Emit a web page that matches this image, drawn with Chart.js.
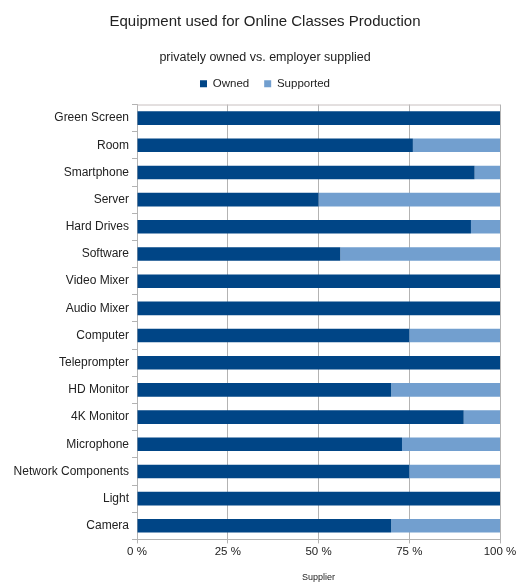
<!DOCTYPE html>
<html>
<head>
<meta charset="utf-8">
<script src="https://cdn.jsdelivr.net/npm/chart.js@4.4.0/dist/chart.umd.min.js"></script>
<style>
  html, body { margin: 0; padding: 0; background: #fff; }
  #wrap { width: 530px; height: 585px; }
</style>
</head>
<body>
<div id="wrap"><canvas id="chart"></canvas></div>
<script>
const categories = ['Green Screen', 'Room', 'Smartphone', 'Server', 'Hard Drives', 'Software',
  'Video Mixer', 'Audio Mixer', 'Computer', 'Teleprompter', 'HD Monitor', '4K Monitor',
  'Microphone', 'Network Components', 'Light', 'Camera'];
const owned     = [100, 76, 93, 50, 92, 56, 100, 100, 75, 100, 70, 90, 73, 75, 100, 70];
const supported = [0, 24, 7, 50, 8, 44, 0, 0, 25, 0, 30, 10, 27, 25, 0, 30];
const xTicks = [0, 25, 50, 75, 100];

// layout tweaks: extra gap under the legend, let long y labels spill left,
// and draw the top edge of the plot frame
const tweaks = {
  id: 'tweaks',
  beforeInit(chart) {
    const fit = chart.legend.fit;
    chart.legend.fit = function () {
      fit.call(this);
      this.height += 5;
    };
  },
  afterLayout(chart) {
    chart.scales.y.left = 0;
  },
  afterDatasetsDraw(chart) {
    const { ctx, chartArea: a } = chart;
    ctx.save();
    ctx.strokeStyle = '#c8c0c0';
    ctx.lineWidth = 1;
    ctx.beginPath();
    ctx.moveTo(a.left, a.top + 0.5);
    ctx.lineTo(a.right, a.top + 0.5);
    ctx.stroke();
    ctx.restore();
  }
};

new Chart(document.getElementById('chart'), {
  type: 'bar',
  data: {
    labels: categories,
    datasets: [
      { label: 'Owned', data: owned, backgroundColor: '#004586', barPercentage: 0.5, categoryPercentage: 1 },
      { label: 'Supported', data: supported, backgroundColor: '#729fcf', barPercentage: 0.5, categoryPercentage: 1 }
    ]
  },
  options: {
    indexAxis: 'y',
    responsive: true,
    maintainAspectRatio: false,
    animation: false,
    layout: { padding: { left: 30, right: 30, top: 0, bottom: 2 } },
    plugins: {
      title: {
        display: true,
        text: 'Equipment used for Online Classes Production',
        color: '#222',
        font: { family: 'Liberation Sans', size: 15, weight: 'normal' },
        padding: { top: 13, bottom: 13 }
      },
      subtitle: {
        display: true,
        text: 'privately owned vs. employer supplied',
        color: '#222',
        font: { family: 'Liberation Sans', size: 12.5 },
        padding: { top: 6, bottom: -2 }
      },
      legend: {
        position: 'top',
        labels: {
          color: '#222',
          font: { family: 'Liberation Sans', size: 11.5 },
          boxWidth: 7,
          boxHeight: 7,
          padding: 15
        }
      },
      tooltip: { enabled: false }
    },
    scales: {
      x: {
        stacked: true,
        min: 0,
        max: 100,
        afterBuildTicks: axis => { axis.ticks = xTicks.map(v => ({ value: v })); },
        ticks: {
          color: '#222',
          font: { family: 'Liberation Sans', size: 11.5 },
          callback: v => v + ' %',
          padding: 2
        },
        grid: { color: '#b3b3b3', drawTicks: true, tickLength: 4 },
        border: { color: '#b3b3b3' },
        title: {
          display: true,
          text: 'Supplier',
          color: '#222',
          font: { family: 'Liberation Sans', size: 9 },
          padding: { top: 11, bottom: 0 }
        }
      },
      y: {
        stacked: true,
        afterFit: axis => { axis.width = 107; },
        ticks: {
          color: '#222',
          font: { family: 'Liberation Sans', size: 12 },
          padding: 3
        },
        grid: { drawOnChartArea: false, drawTicks: true, tickLength: 5, color: '#b3b3b3', offset: true },
        border: { color: '#b3b3b3' }
      }
    }
  },
  plugins: [tweaks]
});
</script>
</body>
</html>
